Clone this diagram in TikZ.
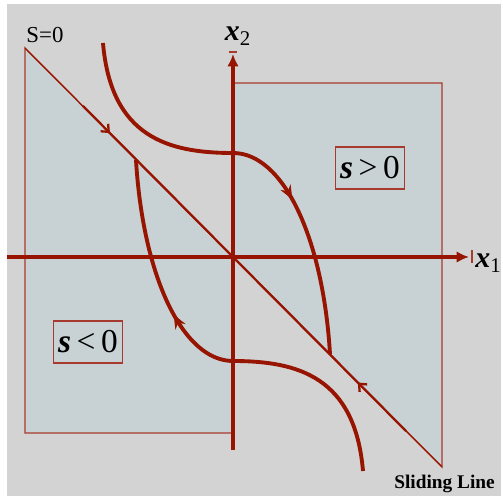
\documentclass[tikz,border=0pt]{standalone}
\usepackage{fontspec}
\setmainfont{Liberation Serif}
\usepackage{tikz}
\usetikzlibrary{arrows.meta, decorations.markings}
\definecolor{trajred}{RGB}{150,20,0}
\definecolor{edgered}{RGB}{168,58,45}
\definecolor{panelgray}{RGB}{211,211,211}
\definecolor{regionblue}{RGB}{200,210,212}

\begin{document}
\begin{tikzpicture}[x=0.02cm, y=0.02cm,
  traj/.style={trajred, line width=2.2pt},
  axisline/.style={trajred, line width=1.8pt, -{Latex[length=7pt,width=6.5pt]}},
  region/.style={fill=regionblue, draw=edgered, line width=0.8pt},
  sbox/.style={draw=edgered, fill=regionblue, line width=0.8pt, minimum width=1.38cm,
    minimum height=0.84cm, inner sep=0pt, font=\fontsize{19}{20}\selectfont},
  flowmark/.style={postaction={decorate}, decoration={markings,
    mark=at position #1 with {\arrow{Stealth[length=8pt,width=6.5pt]}}}},
  slidemark/.style={postaction={decorate}, decoration={markings,
    mark=at position #1 with {\arrow{Straight Barb[length=3.5pt,width=6pt]}}}}]
  \useasboundingbox (-233,-239) rectangle (270,257);
  \fill[panelgray] (-226,-239) rectangle (268,253);
  \coordinate (O) at (0,0);
  \coordinate (sTop) at (-208,209);
  \coordinate (sBot) at (209,-210);
  \filldraw[region] (sTop) -- (O) -- (0,-176) -- (-208,-176) -- cycle;
  \filldraw[region] (0,174) -- (209,174) -- (sBot) -- (O) -- cycle;
  \draw[trajred, line width=0.6pt] (sTop) -- (sBot);
  \coordinate (slideA) at (-150,151);
  \coordinate (slideB) at (173,-174);
  \draw[trajred, line width=1.3pt, slidemark=0.18] (slideA) -- (O);
  \draw[trajred, line width=1.3pt, slidemark=0.28] (slideB) -- (O);
  \draw[axisline] (-226,0) -- (236,0);
  \draw[axisline] (0,-193) -- (0,203);
  \draw[edgered, line width=0.6pt] (239,-6) -- (239,7);
  \draw[edgered, line width=0.6pt] (-4,205) -- (4,205);
  \coordinate (upStart) at (-130,214);
  \coordinate (upCross) at (0,104);
  \coordinate (upEnd) at (97,-97);
  \coordinate (loStart) at (130,-214);
  \coordinate (loCross) at (0,-104);
  \coordinate (loEnd) at (-97,97);
  \draw[traj, flowmark=0.63] (upStart) .. controls (-122,120) and (-65,104) .. (upCross)
    .. controls (50,104) and (90,20) .. (upEnd);
  \draw[traj, flowmark=0.63] (loStart) .. controls (122,-120) and (65,-104) .. (loCross)
    .. controls (-50,-104) and (-90,-20) .. (loEnd);
  \node[sbox] (sPos) at (137,89) {\textbf{\textit{s}}\,>\,0};
  \node[sbox] (sNeg) at (-145,-85) {\textbf{\textit{s}}\,<\,0};
  \node[font=\fontsize{13}{15}\selectfont] (sZero) at (-188,222) {S=0};
  \node[anchor=base west, font=\bfseries\fontsize{11}{13}\selectfont, inner sep=0pt] (slideLbl) at (161,-231) {Sliding Line};
  \node[font=\fontsize{17}{19}\selectfont] (xTwo) at (5,221) {\textbf{\textit{x}}\textsubscript{2}};
  \node[anchor=west, font=\fontsize{17}{19}\selectfont, inner sep=0pt] (xOne) at (242,-6) {\textbf{\textit{x}}\textsubscript{1}};
\end{tikzpicture}
\end{document}
